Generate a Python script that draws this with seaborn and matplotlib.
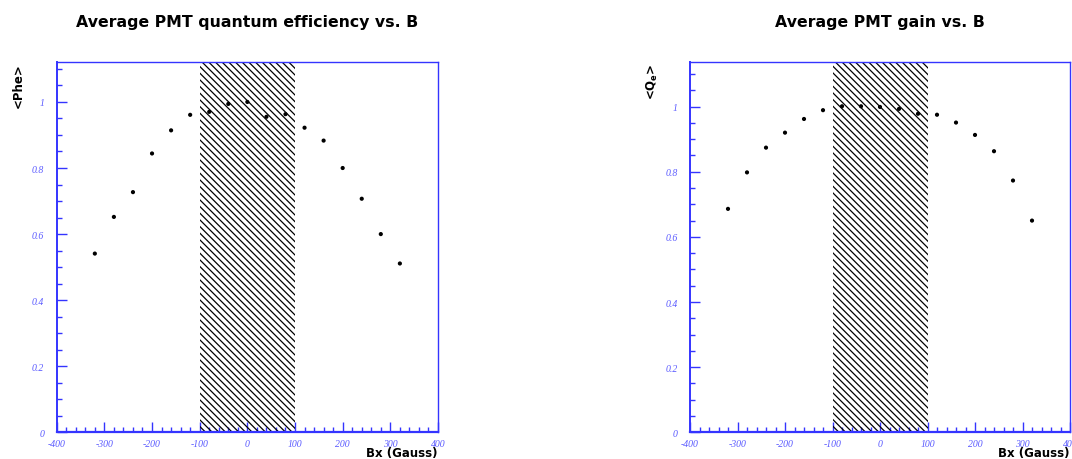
import matplotlib
matplotlib.use("Agg")
import matplotlib.pyplot as plt
import seaborn as sns
import pandas as pd
from matplotlib.ticker import MultipleLocator, FixedLocator

# ---- data ----
bx = [-320, -280, -240, -200, -160, -120, -80, -40, 0, 40, 80, 120, 160, 200, 240, 280, 320]
phe = [0.541, 0.652, 0.727, 0.844, 0.914, 0.961, 0.970, 0.994, 1.000, 0.955, 0.963,
       0.922, 0.883, 0.800, 0.707, 0.600, 0.511]
gain = [0.686, 0.798, 0.874, 0.920, 0.962, 0.989, 1.001, 1.001, 0.999, 0.993, 0.978,
        0.975, 0.951, 0.913, 0.863, 0.773, 0.650]
hatch_range = [-100, 100]
x_ticks = [-400, -300, -200, -100, 0, 100, 200, 300, 400]
x_ticklabels = ["-400", "-300", "-200", "-100", "0", "100", "200", "300", "400"]
y_ticks = [0, 0.2, 0.4, 0.6, 0.8, 1.0]
y_ticklabels = ["0", "0.2", "0.4", "0.6", "0.8", "1"]
titles = ["Average PMT quantum efficiency vs. B", "Average PMT gain vs. B"]
ylabels = ["<Phe>", r"<$\mathbf{Q_e}$>"]
xlabel = "Bx (Gauss)"

df = pd.DataFrame({"Bx": bx, "Phe": phe, "Gain": gain})

sns.set_theme(style="white")
plt.rcParams["font.family"] = ["DejaVu Sans"]
plt.rcParams["hatch.linewidth"] = 0.9
plt.rcParams["hatch.color"] = "black"

BLUE = "#3434ff"
LBLUE = "#5a5aff"

fig = plt.figure(figsize=(10.72, 4.60), dpi=100)
fig.patch.set_facecolor("white")

W, H = 1072.0, 460.0
ax_specs = [
    (56.7, 438.0, 1.12),
    (690.0, 1070.0, 1.136),
]
top_px, bot_px = 63.3, 433.3

for i, (ycol, (x0, x1, ymax)) in enumerate(zip(["Phe", "Gain"], ax_specs)):
    ax = fig.add_axes([x0 / W, 1 - bot_px / H, (x1 - x0) / W, (bot_px - top_px) / H])
    ax.axvspan(hatch_range[0], hatch_range[1], facecolor="none", edgecolor="black",
               hatch="\\\\\\\\\\", linewidth=0, zorder=1)
    sns.scatterplot(data=df, x="Bx", y=ycol, ax=ax, color="black", s=9,
                    edgecolor="none", zorder=3, legend=False)
    ax.set_xlim(-400, 400)
    ax.set_ylim(0, ymax)
    ax.xaxis.set_major_locator(FixedLocator(x_ticks))
    ax.xaxis.set_minor_locator(MultipleLocator(20))
    ax.yaxis.set_major_locator(FixedLocator(y_ticks))
    ax.yaxis.set_minor_locator(MultipleLocator(0.05))
    ax.set_xticklabels(x_ticklabels)
    ax.set_yticklabels(y_ticklabels)
    for lbl in ax.get_xticklabels() + ax.get_yticklabels():
        lbl.set_fontfamily("Liberation Serif")
        lbl.set_fontstyle("italic")
        lbl.set_fontsize(7)
        lbl.set_color(LBLUE)
    ax.tick_params(axis="both", which="major", direction="in", length=7, width=1,
                   color=BLUE, top=False, right=False, bottom=True, left=True)
    ax.tick_params(axis="both", which="minor", direction="in", length=3.5, width=1,
                   color=BLUE, top=False, right=False, bottom=True, left=True)
    ax.tick_params(axis="x", which="major", pad=5)
    ax.tick_params(axis="y", which="major", pad=9)
    for s in ax.spines.values():
        s.set_visible(True)
        s.set_color(BLUE)
        s.set_linewidth(1.0)
    ax.spines["bottom"].set_linewidth(1.6)
    ax.spines["left"].set_linewidth(1.4)
    ax.set_xlabel("")
    ax.set_ylabel("")
    ax.grid(False)

    cx = (x0 + x1) / 2 / W
    fig.text(cx, 1 - 22 / H, titles[i], ha="center", va="center", fontsize=11.3,
             fontweight="bold", color="black")
    fig.text((x0 - 38) / W, 1 - top_px / H, ylabels[i], ha="center", va="top",
             rotation=90, fontsize=8.5, fontweight="bold", color="black")
    fig.text(x1 / W, 1 - 454 / H, xlabel, ha="right", va="center", fontsize=8.5,
             fontweight="bold", color="black")

fig.savefig("out.png", dpi=100, facecolor="white")
